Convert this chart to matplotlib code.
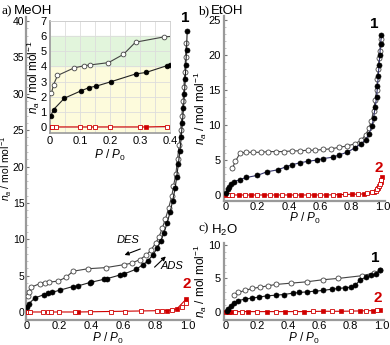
import numpy as np
import matplotlib.pyplot as plt

# ---- data ----
# a) MeOH, compound 1
meoh1_ads_p = [0.003, 0.012, 0.048, 0.105, 0.13, 0.155, 0.205, 0.285, 0.32, 0.39, 0.40,
               0.48, 0.50, 0.58, 0.60, 0.68, 0.72, 0.75, 0.78, 0.81, 0.83, 0.85, 0.87,
               0.89, 0.905, 0.92, 0.93, 0.94, 0.95, 0.958, 0.965, 0.972, 0.978, 0.983,
               0.987, 0.991, 0.995]
meoh1_ads_n = [0.75, 1.15, 1.9, 2.4, 2.6, 2.7, 3.0, 3.5, 3.6, 4.05, 4.1,
               4.5, 4.6, 5.1, 5.2, 5.9, 6.5, 7.0, 7.8, 8.8, 9.7, 10.8, 12.2,
               13.8, 15.3, 17.0, 18.6, 20.3, 22.2, 24.0, 26.0, 28.0, 30.0, 32.0,
               34.0, 36.0, 38.6]
meoh1_des_p = [0.005, 0.012, 0.025, 0.08, 0.115, 0.135, 0.195, 0.245, 0.285, 0.38, 0.49,
               0.6, 0.65, 0.7, 0.74, 0.77, 0.8, 0.82, 0.84, 0.86, 0.88, 0.9, 0.91,
               0.925, 0.935, 0.945, 0.955, 0.962, 0.97, 0.975, 0.98, 0.985, 0.99]
meoh1_des_n = [2.25, 2.8, 3.4, 3.9, 4.05, 4.1, 4.25, 4.8, 5.6, 5.95, 6.1,
               6.5, 6.7, 7.2, 7.8, 8.5, 9.5, 10.3, 11.5, 12.8, 14.3, 16.0, 17.3,
               19.0, 21.0, 23.0, 25.0, 27.0, 29.0, 31.0, 33.0, 35.0, 37.0]
# a) MeOH, compound 2
meoh2_ads_p = [0.003, 0.32, 0.87, 0.93, 0.99]
meoh2_ads_n = [0.0, 0.0, 0.2, 0.4, 1.8]
meoh2_des_p = [0.008, 0.02, 0.1, 0.13, 0.15, 0.2, 0.3, 0.39, 0.52, 0.61, 0.71,
               0.81, 0.84, 0.9, 0.96, 0.985]
meoh2_des_n = [0.0, 0.0, 0.0, 0.0, 0.0, 0.0, 0.0, 0.0, 0.05, 0.05, 0.1,
               0.15, 0.2, 0.3, 0.7, 1.3]

# b) EtOH, compound 1
etoh1_ads_p = [0.003, 0.01, 0.02, 0.03, 0.05, 0.09, 0.13, 0.2, 0.26, 0.33, 0.38, 0.42,
               0.47, 0.52, 0.58, 0.62, 0.68, 0.72, 0.77, 0.82, 0.86, 0.89, 0.91, 0.93,
               0.94, 0.95, 0.96, 0.965, 0.97, 0.975, 0.98, 0.985, 0.99]
etoh1_ads_n = [0.3, 0.8, 1.2, 1.5, 1.9, 2.2, 2.5, 2.8, 3.3, 3.6, 4.0, 4.3,
               4.6, 4.8, 5.0, 5.2, 5.4, 5.7, 6.1, 6.7, 7.3, 7.9, 8.7, 9.8,
               11.0, 12.5, 14.0, 15.5, 17.0, 18.5, 20.0, 21.5, 22.8]
etoh1_des_p = [0.04, 0.06, 0.09, 0.13, 0.17, 0.22, 0.27, 0.32, 0.37, 0.42, 0.47, 0.52,
               0.57, 0.62, 0.67, 0.72, 0.77, 0.82, 0.86, 0.89, 0.91, 0.925, 0.94, 0.95,
               0.96, 0.965, 0.97, 0.975, 0.98, 0.985, 0.99]
etoh1_des_n = [3.8, 4.8, 6.0, 6.1, 6.1, 6.1, 6.2, 6.2, 6.2, 6.3, 6.3, 6.4,
               6.4, 6.5, 6.6, 6.8, 7.0, 7.3, 7.8, 8.6, 9.5, 10.5, 12.0, 13.5,
               15.0, 16.5, 18.0, 19.5, 20.5, 21.5, 22.3]
# b) EtOH, compound 2
etoh2_ads_p = [0.003, 0.08, 0.16, 0.24, 0.32, 0.4, 0.48, 0.56, 0.64, 0.72, 0.8, 0.88,
               0.94, 0.97, 0.985, 0.995]
etoh2_ads_n = [0.0, 0.0, 0.0, 0.0, 0.0, 0.0, 0.0, 0.0, 0.0, 0.05, 0.1, 0.15,
               0.4, 1.0, 1.8, 2.6]
etoh2_des_p = [0.02, 0.04, 0.12, 0.2, 0.28, 0.36, 0.44, 0.52, 0.6, 0.68, 0.76, 0.84,
               0.9, 0.93, 0.955, 0.965, 0.975, 0.98, 0.99]
etoh2_des_n = [0.0, 0.0, 0.0, 0.0, 0.0, 0.0, 0.0, 0.0, 0.05, 0.05, 0.1, 0.15,
               0.25, 0.4, 0.6, 0.9, 1.3, 1.6, 2.2]

# c) H2O, compound 1
h2o1_ads_p = [0.005, 0.015, 0.03, 0.05, 0.08, 0.12, 0.17, 0.21, 0.26, 0.32, 0.37, 0.43,
              0.47, 0.52, 0.57, 0.62, 0.68, 0.72, 0.76, 0.8, 0.83, 0.86, 0.9, 0.93,
              0.96, 0.99]
h2o1_ads_n = [0.2, 0.5, 0.9, 1.4, 1.7, 1.9, 2.1, 2.2, 2.4, 2.5, 2.6, 2.8,
              2.9, 3.0, 3.1, 3.2, 3.4, 3.5, 3.6, 3.7, 4.0, 4.8, 5.2, 5.5,
              5.7, 6.2]
h2o1_des_p = [0.05, 0.08, 0.12, 0.17, 0.22, 0.27, 0.32, 0.42, 0.52, 0.62, 0.72,
              0.87, 0.95, 0.99]
h2o1_des_n = [2.6, 2.9, 3.2, 3.5, 3.7, 3.9, 4.1, 4.3, 4.5, 4.8, 5.0,
              5.4, 5.8, 6.2]
# c) H2O, compound 2
h2o2_ads_p = [0.003, 0.01, 0.02, 0.03, 0.14, 0.26, 0.38, 0.5, 0.62, 0.74, 0.86, 0.94, 0.99]
h2o2_ads_n = [0.0, 0.0, 0.05, 0.05, 0.05, 0.05, 0.05, 0.05, 0.1, 0.1, 0.15, 0.2, 0.35]
h2o2_des_p = [0.06, 0.1, 0.2, 0.32, 0.44, 0.56, 0.68, 0.8, 0.9, 0.97]
h2o2_des_n = [0.05, 0.05, 0.05, 0.05, 0.05, 0.1, 0.1, 0.15, 0.2, 0.3]

RED = '#d00000'
SPINE = '#9a9a9a'
plt.rcParams['font.family'] = ['Liberation Sans', 'DejaVu Sans']
plt.rcParams['mathtext.fontset'] = 'custom'
plt.rcParams['mathtext.it'] = 'Liberation Sans:italic'
plt.rcParams['mathtext.rm'] = 'Liberation Sans'

YLAB = r'$n_a$ / mol mol$^{-1}$'
XLAB = r'$P$ / $P_0$'
XT = [0, 0.2, 0.4, 0.6, 0.8, 1.0]
XTL = ['0', '0.2', '0.4', '0.6', '0.8', '1.0']


def style(ax, fs=8):
    for s in ('top', 'right'):
        ax.spines[s].set_visible(False)
    for s in ('left', 'bottom'):
        ax.spines[s].set_color(SPINE)
        ax.spines[s].set_linewidth(1.6)
    ax.tick_params(axis='x', length=0, labelsize=fs, pad=1)
    ax.tick_params(axis='y', direction='in', length=2.5, width=0.8, color='#777777',
                   labelsize=fs, pad=2.5)
    ax.tick_params(axis='y', which='minor', direction='in', length=1.5, width=0.6, color='#bbbbbb')
    ax.set_xticks(XT)
    ax.set_xticklabels(XTL)
    ax.set_xlim(-0.01, 1.01)
    ax.set_xlabel(XLAB, fontsize=8.5, labelpad=-0.5)
    ax.set_ylabel(YLAB, fontsize=8.5, labelpad=-0.5)


def isotherm(ax, ap, an, dp, dn, c1_line='#222222', ms=3.6):
    ax.plot(dp, dn, '-o', color='#444444', lw=0.8, ms=ms, mfc='white', mec='#444444', mew=0.6, zorder=3)
    ax.plot(ap, an, '-o', color=c1_line, lw=0.8, ms=ms, mfc='black', mec='black', mew=0.5, zorder=4)


def sample2(ax, ap, an, dp, dn, ms=3.4):
    ax.plot(ap, an, '-s', color=RED, lw=0.8, ms=ms, mfc=RED, mec=RED, mew=0.5, zorder=3)
    ax.plot(dp, dn, 's', ms=ms, mfc='white', mec=RED, mew=0.6, zorder=4)


def tag(ax, x, y, s, color='black'):
    ax.text(x, y, s, fontsize=11, fontweight='bold', color=color, ha='center', va='bottom')


fig = plt.figure(figsize=(3.9, 3.45), dpi=100)

# ---- a) MeOH ----
axa = fig.add_axes([0.0679, 0.0725, 0.4182, 0.877])
style(axa, fs=7.5)
axa.set_xlim(-0.003, 1.01)
axa.set_ylabel(YLAB, fontsize=7.5, labelpad=-0.5)
axa.tick_params(axis='x', labelsize=8)
axa.tick_params(axis='y', pad=1.5)
axa.yaxis.set_label_coords(-0.076, 0.5)
sample2(axa, meoh2_ads_p, meoh2_ads_n, meoh2_des_p, meoh2_des_n)
isotherm(axa, meoh1_ads_p, meoh1_ads_n, meoh1_des_p, meoh1_des_n)
axa.set_ylim(-1.1, 40.5)
axa.set_yticks(range(0, 41, 5))
axa.set_yticks(range(0, 41, 1), minor=True)
tag(axa, 0.985, 39.4, '1')
tag(axa, 0.995, 2.9, '2', RED)
axa.annotate('', xy=(0.59, 7.7), xytext=(0.72, 8.8),
             arrowprops=dict(arrowstyle='-|>', color='black', lw=0.8, mutation_scale=6))
axa.text(0.63, 9.9, 'DES', fontsize=8, style='italic', ha='center', va='center')
axa.annotate('', xy=(0.875, 7.9), xytext=(0.78, 5.9),
             arrowprops=dict(arrowstyle='-|>', color='black', lw=0.8, mutation_scale=6))
axa.text(0.9, 6.3, 'ADS', fontsize=8, style='italic', ha='center', va='center')

# inset
axi = fig.add_axes([0.1282, 0.6145, 0.3077, 0.3246])
axi.axhspan(-0.4, 4, color='#fdfbdc', zorder=0)
axi.axhspan(4, 6, color='#e2f5dc', zorder=0)
axi.set_xticks(np.arange(0, 0.41, 0.05), minor=True)
axi.set_xticks([0, 0.1, 0.2, 0.3, 0.4])
axi.set_xticklabels(['0', '0.1', '0.2', '0.3', '0.4'])
axi.set_yticks(range(0, 8))
axi.grid(True, which='both', color='#dddddd', lw=0.6, zorder=1)
axi.set_axisbelow(True)
for s in axi.spines.values():
    s.set_color('#cccccc')
    s.set_linewidth(0.6)
for s in ('left', 'bottom'):
    axi.spines[s].set_color(SPINE)
    axi.spines[s].set_linewidth(1.2)
axi.tick_params(length=0, labelsize=8, pad=2.5)
axi.tick_params(which='minor', length=0)
isotherm(axi, meoh1_ads_p, meoh1_ads_n, meoh1_des_p, meoh1_des_n, ms=3.4)
sample2(axi, meoh2_ads_p, meoh2_ads_n, meoh2_des_p, meoh2_des_n, ms=3.2)
axi.set_xlim(0, 0.4)
axi.set_ylim(-0.4, 7)
axi.set_xlabel(XLAB, fontsize=8.5, labelpad=1)
axi.set_ylabel(YLAB, fontsize=8.5, labelpad=-1)

# ---- b) EtOH ----
axb = fig.add_axes([0.5754, 0.4186, 0.4105, 0.5336])
style(axb)
sample2(axb, etoh2_ads_p, etoh2_ads_n, etoh2_des_p, etoh2_des_n)
isotherm(axb, etoh1_ads_p, etoh1_ads_n, etoh1_des_p, etoh1_des_n, c1_line='#33336a')
axb.set_ylim(-0.8, 25.5)
axb.set_yticks(range(0, 26, 5))
axb.set_yticks(range(0, 26, 1), minor=True)
tag(axb, 0.945, 23.4, '1')
tag(axb, 0.975, 2.9, '2', RED)

# ---- c) H2O ----
axc = fig.add_axes([0.5754, 0.0725, 0.408, 0.2235])
style(axc)
sample2(axc, h2o2_ads_p, h2o2_ads_n, h2o2_des_p, h2o2_des_n)
isotherm(axc, h2o1_ads_p, h2o1_ads_n, h2o1_des_p, h2o1_des_n)
axc.set_ylim(-1.2, 10.3)
axc.set_yticks([0, 5, 10])
axc.set_yticks(range(0, 11, 1), minor=True)
tag(axc, 0.955, 7.0, '1')
tag(axc, 0.97, 1.1, '2', RED)

# panel labels
fig.text(0.005, 0.985, 'a)', family='Liberation Serif', fontsize=9.5, va='top')
fig.text(0.035, 0.985, 'MeOH', fontsize=9.5, va='top')
fig.text(0.508, 0.985, 'b)', family='Liberation Serif', fontsize=9.5, va='top')
fig.text(0.54, 0.985, 'EtOH', fontsize=9.5, va='top')
fig.text(0.508, 0.355, 'c)', family='Liberation Serif', fontsize=9.5, va='top')
fig.text(0.54, 0.355, r'H$_2$O', fontsize=9.5, va='top')

fig.savefig('out.png', dpi=100)
